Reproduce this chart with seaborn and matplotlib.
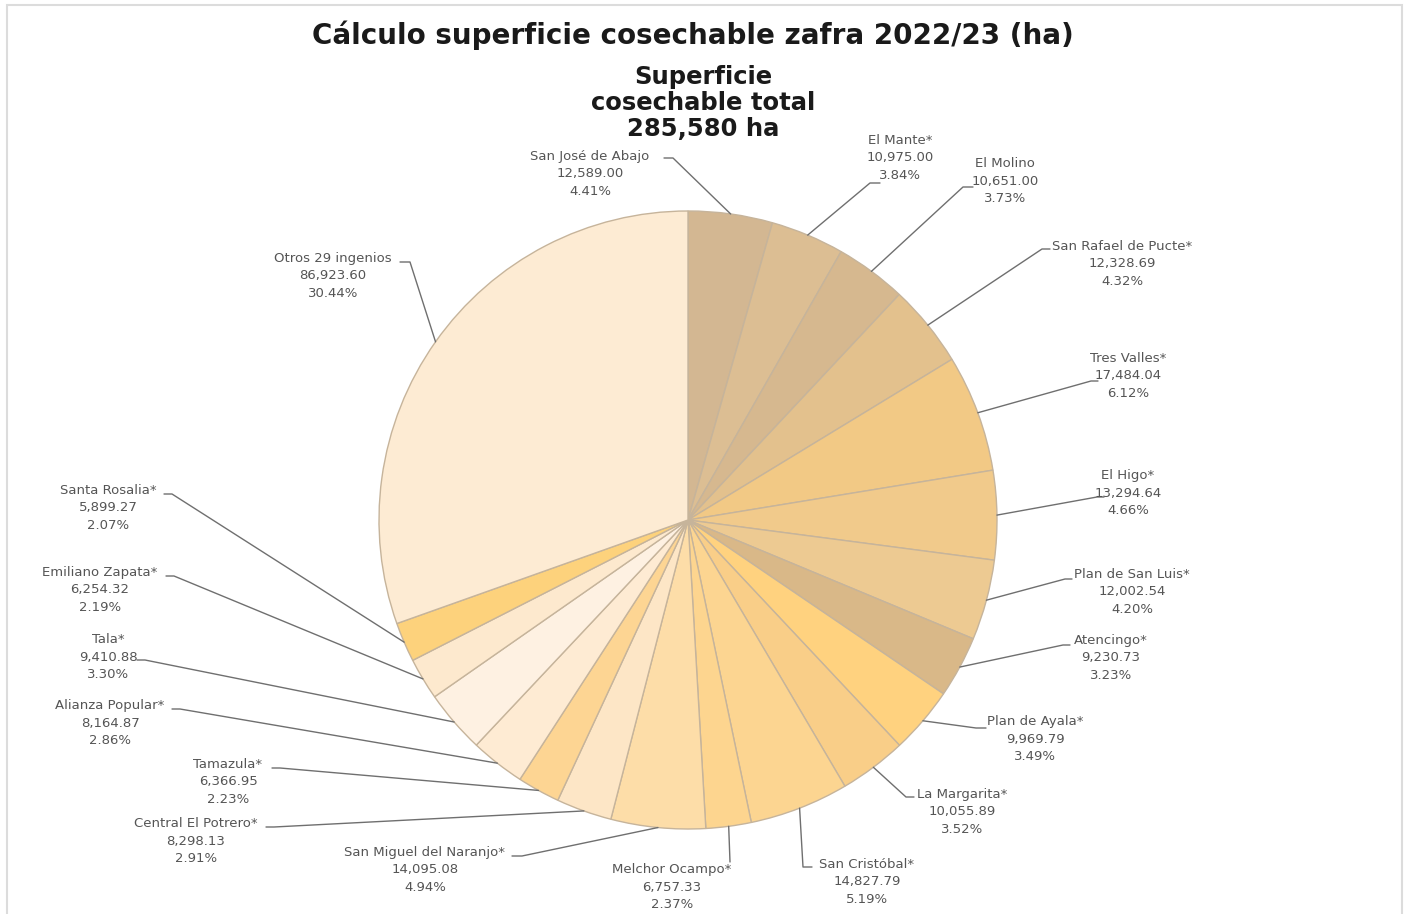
import numpy as np
import pandas as pd
import seaborn as sns
import matplotlib.pyplot as plt
from matplotlib.patches import Rectangle

# datos (ha), en el orden de las rebanadas (sentido horario desde arriba)
ingenios = ['San José de Abajo', 'El Mante*', 'El Molino', 'San Rafael de Pucte*',
            'Tres Valles*', 'El Higo*', 'Plan de San Luis*', 'Atencingo*',
            'Plan de Ayala*', 'La Margarita*', 'San Cristóbal*', 'Melchor Ocampo*',
            'San Miguel del Naranjo*', 'Central El Potrero*', 'Tamazula*',
            'Alianza Popular*', 'Tala*', 'Emiliano Zapata*', 'Santa Rosalia*',
            'Otros 29 ingenios']
superficie = [12589.00, 10975.00, 10651.00, 12328.69, 17484.04, 13294.64, 12002.54,
              9230.73, 9969.79, 10055.89, 14827.79, 6757.33, 14095.08, 8298.13,
              6366.95, 8164.87, 9410.88, 6254.32, 5899.27, 86923.60]
colores = ['#D3B792', '#DCBE93', '#D6B88F', '#E3C18D', '#F2C985', '#F1CA8B',
           '#EDCA92', '#D9B888', '#FFD27F', '#F9CE88', '#FCD591', '#FDD58F',
           '#FDDDA8', '#FDE6C6', '#FDD593', '#FEEBD3', '#FEF1E2', '#FDE9CE',
           '#FDD27C', '#FDEBD3']

df = pd.DataFrame({'ingenio': ingenios, 'ha': superficie, 'color': colores})
total = df['ha'].sum()
df['pct'] = df['ha'] / total * 100

# layout en pixeles: centro del texto (linea media) y final del conector
txt_pos = [(590, 174), (900, 158), (1005, 181), (1122, 264), (1128, 376),
           (1128, 493), (1132, 592), (1111, 658), (1035, 739), (962, 812),
           (867, 882), (672, 887), (425, 870), (196, 841), (228, 782),
           (110, 723), (108, 657), (100, 590), (108, 508), (333, 276)]
fin_con = [(664, 158), (880, 183), (973, 187), (1050, 249), (1098, 381),
           (1104, 497), (1072, 579), (1070, 645), (986, 728), (914, 797),
           (812, 867), (730, 862), (512, 856), (266, 827), (272, 768),
           (172, 709), (137, 660), (166, 576), (164, 494), (400, 262)]
codo = [(673, 158), (870, 183), (963, 187), (1042, 249), (1091, 381),
        (1097, 497), (1065, 579), (1063, 645), (976, 728), (906, 797),
        (803, 867), (730, 862), (522, 856), (274, 827), (280, 768),
        (180, 709), (145, 660), (174, 576), (172, 494), (410, 262)]

W, H = 1407, 914
CX, CY, R = 688, 520, 309


def px(x, y):
    return (x - CX) / R, (CY - y) / R


sns.set_theme(style='white')
plt.rcParams['font.family'] = ['DejaVu Sans']

fig = plt.figure(figsize=(W / 100, H / 100), dpi=100)
fig.patch.set_facecolor('white')
ax = fig.add_axes([0, 0, 1, 1])

wedges, _ = ax.pie(df['ha'], colors=df['color'], startangle=90, counterclock=False,
                   radius=1, wedgeprops=dict(edgecolor='#C6B49B', linewidth=1.0))
ax.set_xlim(-CX / R, (W - CX) / R)
ax.set_ylim((CY - H) / R, CY / R)
ax.set_aspect('equal')
ax.axis('off')

for i, w in enumerate(wedges):
    ang = np.deg2rad((w.theta1 + w.theta2) / 2)
    x0, y0 = np.cos(ang), np.sin(ang)
    ex, ey = px(*codo[i])
    fx, fy = px(*fin_con[i])
    ax.plot([x0, ex, fx], [y0, ey, fy], color='#6f6f6f', lw=1.0, zorder=1)
    tx, ty = px(*txt_pos[i])
    fila = df.iloc[i]
    etiqueta = f"{fila['ingenio']}\n{fila['ha']:,.2f}\n{fila['pct']:.2f}%"
    ax.text(tx, ty, etiqueta, ha='center', va='center', fontsize=9.5,
            color='#555555', linespacing=1.46)

fig.text(693 / W, 1 - 35 / H, 'Cálculo superficie cosechable zafra 2022/23 (ha)',
         ha='center', va='center', fontsize=20, fontweight='bold', color='#1a1a1a')
fig.text(703 / W, 1 - 103 / H, f'Superficie\ncosechable total\n{total:,.0f} ha',
         ha='center', va='center', fontsize=17.5, fontweight='bold', color='#1a1a1a',
         linespacing=1.12)

fig.patches.append(Rectangle((7 / W, -0.01), (W - 12) / W, 1.01 - 5 / H,
                             transform=fig.transFigure, fill=False,
                             edgecolor='#dcdcdc', lw=1.5))

fig.savefig('out.png', dpi=100, facecolor='white')
